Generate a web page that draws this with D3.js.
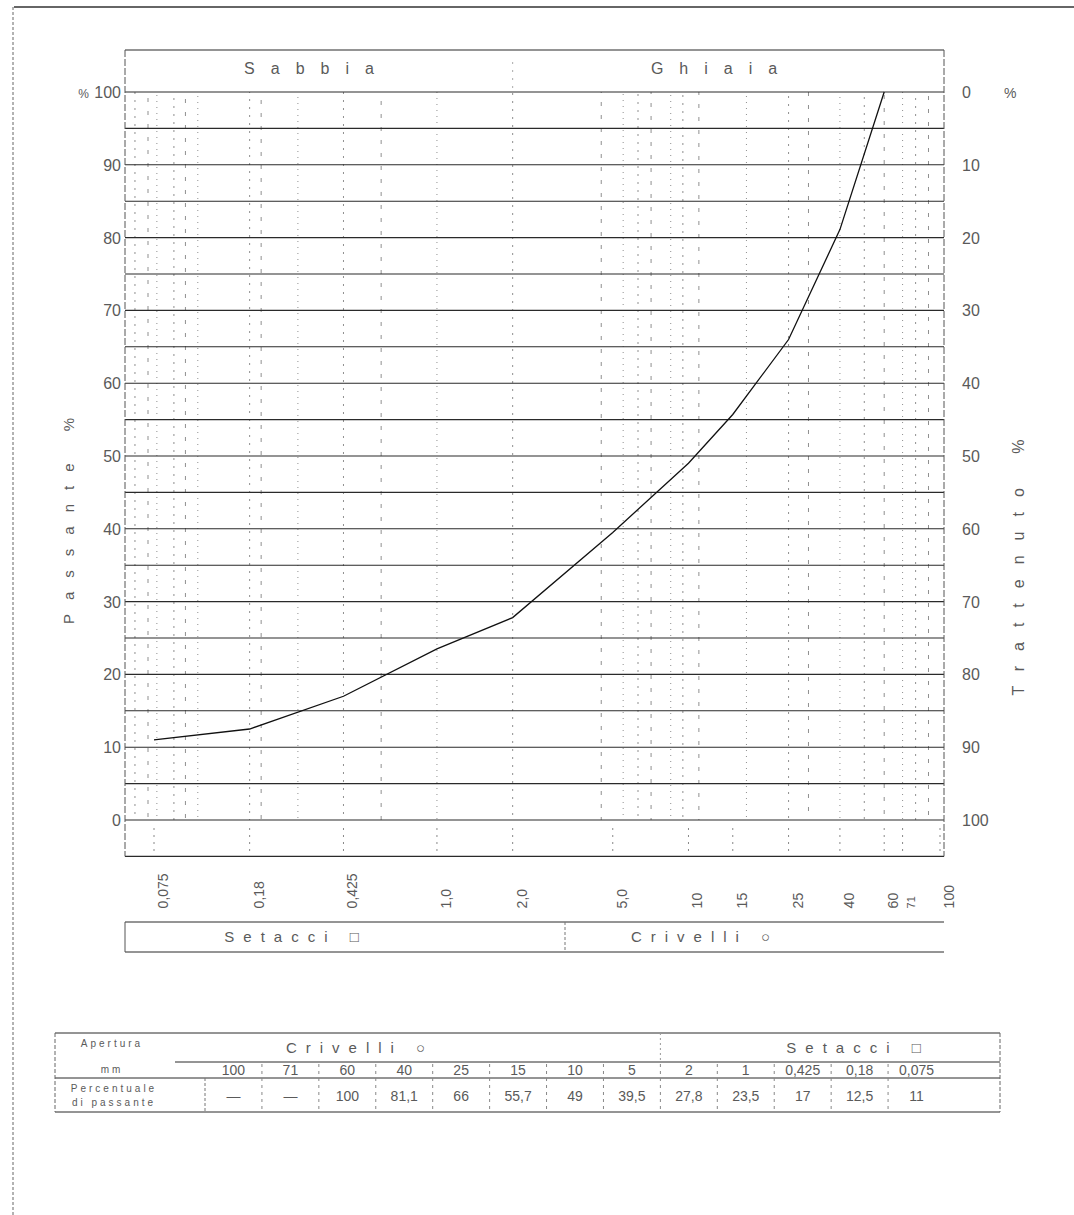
<!DOCTYPE html>
<html><head><meta charset="utf-8">
<script src="https://cdn.jsdelivr.net/npm/d3@7"></script>
<style>
body{margin:0;background:#fff}
svg{display:block}
text{font-family:"Liberation Sans",Arial,sans-serif;fill:#5a5a5a}
</style>
</head><body>
<svg id="c" width="1074" height="1215"></svg>
<script>
// ---- data ----
const sieveSizes  = [0.075, 0.18, 0.425, 1, 2, 5, 10, 15, 25, 40, 60, 71, 100];
const sieveLabels = ["0,075","0,18","0,425","1,0","2,0","5,0","10","15","25","40","60","71","100"];
const curveSizes  = [0.075, 0.18, 0.425, 1, 2, 5, 10, 15, 25, 40, 60];
const passing     = [11, 12.5, 17, 23.5, 27.8, 39.5, 49, 55.7, 66, 81.1, 100];
const gridSizes   = [0.063,0.071,0.077,0.09,0.1,0.112,0.18,0.2,0.28,0.425,0.6,1,2,4.5,5.5,6.3,7.1,8.5,9.5,11,17,25,30,40,50,60,71,80,90];
const passTicks   = [0,10,20,30,40,50,60,70,80,90,100];
const retainTicks = [100,90,80,70,60,50,40,30,20,10,0];
const hLineValues = [0,5,10,15,20,25,30,35,40,45,50,55,60,65,70,75,80,85,90,95,100];
const tableSizes   = ["100","71","60","40","25","15","10","5","2","1","0,425","0,18","0,075"];
const tablePassing = ["—","—","100","81,1","66","55,7","49","39,5","27,8","23,5","17","12,5","11"];
const crivelliCols = ["100","71","60","40","25","15","10","5"];
const setacciCols  = ["2","1","0,425","0,18","0,075"];

// ---- layout ----
const svg = d3.select("#c");
const L = 125, R = 944, headTop = 50;
const x = d3.scaleLog().domain([0.075, 100]).range([154, 940]);
const y = d3.scaleLinear().domain([0, 100]).range([820, 92]);
const yBottom = y(-5);
const ink = "#2a2a2a";

// page frame
svg.append("line").attr("x1",14).attr("x2",1074).attr("y1",7).attr("y2",7)
  .attr("stroke","#333").attr("stroke-width",1.6);
svg.append("line").attr("x1",13).attr("x2",13).attr("y1",7).attr("y2",1215)
  .attr("stroke","#666").attr("stroke-width",1).attr("stroke-dasharray","3,2");

// vertical dotted grid
svg.append("g").selectAll("line").data(gridSizes).join("line")
  .attr("x1",d=>x(d)).attr("x2",d=>x(d))
  .attr("y1",y(100)).attr("y2",y(0))
  .attr("stroke","#8f8f8f").attr("stroke-width",1)
  .attr("stroke-dasharray",(d,i)=> i%3===0 ? "2,6" : (i%3===1 ? "4,9" : "1,5"))
  .attr("stroke-dashoffset",(d,i)=> (i*7)%11);

// ticks in band below 0
svg.append("g").selectAll("line").data(sieveSizes).join("line")
  .attr("x1",d=>x(d)).attr("x2",d=>x(d))
  .attr("y1",y(0)+8).attr("y2",yBottom)
  .attr("stroke","#888").attr("stroke-dasharray","2,5");

// horizontal lines
svg.append("g").selectAll("line").data(hLineValues).join("line")
  .attr("x1",L).attr("x2",R).attr("y1",d=>y(d)).attr("y2",d=>y(d))
  .attr("stroke",ink).attr("stroke-width",1.1);
svg.append("line").attr("x1",L).attr("x2",R).attr("y1",yBottom).attr("y2",yBottom)
  .attr("stroke",ink).attr("stroke-width",1.1);
svg.append("line").attr("x1",L).attr("x2",R).attr("y1",headTop).attr("y2",headTop)
  .attr("stroke",ink).attr("stroke-width",1.1);
// side borders
[L,R].forEach(v=>svg.append("line").attr("x1",v).attr("x2",v).attr("y1",headTop).attr("y2",yBottom)
  .attr("stroke","#555").attr("stroke-width",1).attr("stroke-dasharray","7,2"));
// sand/gravel boundary mark in header
svg.append("line").attr("x1",x(2)).attr("x2",x(2)).attr("y1",headTop+12).attr("y2",y(100))
  .attr("stroke","#aaa").attr("stroke-dasharray","2,6");

// header texts
svg.append("text").attr("x",317).attr("y",74).attr("text-anchor","middle")
  .attr("font-size",16).attr("letter-spacing",16).text("Sabbia");
svg.append("text").attr("x",722).attr("y",74).attr("text-anchor","middle")
  .attr("font-size",16).attr("letter-spacing",16).text("Ghiaia");

// left axis labels
svg.append("g").selectAll("text").data(passTicks).join("text")
  .attr("x",121).attr("y",d=>y(d)+6).attr("text-anchor","end")
  .attr("font-size",16).text(d=>d);
svg.append("text").attr("x",89).attr("y",y(100)+6).attr("text-anchor","end")
  .attr("font-size",12).text("%");

// right axis labels
svg.append("g").selectAll("text").data(retainTicks).join("text")
  .attr("x",962).attr("y",d=>y(100-d)+6).attr("text-anchor","start")
  .attr("font-size",16).text(d=>d);
svg.append("text").attr("x",1004).attr("y",y(100)+6).attr("font-size",14).text("%");

// axis titles
svg.append("text").attr("transform","translate(74,514) rotate(-90)")
  .attr("text-anchor","middle").attr("font-size",15).attr("letter-spacing",14).text("Passante %");
svg.append("text").attr("transform","translate(1024,560) rotate(-90)")
  .attr("text-anchor","middle").attr("font-size",16).attr("letter-spacing",15).text("Trattenuto %");

// x labels (rotated)
svg.append("g").selectAll("text").data(sieveSizes).join("text")
  .attr("transform",(d,i)=>`translate(${x(d)+ (i===11?12:14)},${yBottom+52}) rotate(-90)`)
  .attr("text-anchor","start")
  .attr("font-size",(d,i)=> i===11 ? 11 : 14)
  .text((d,i)=>sieveLabels[i]);

// curve
svg.append("path")
  .datum(curveSizes.map((d,i)=>[d,passing[i]]))
  .attr("fill","none").attr("stroke","#111").attr("stroke-width",1.3)
  .attr("d", d3.line().x(d=>x(d[0])).y(d=>y(d[1])));

// Setacci / Crivelli band
const bTop = 922, bBot = 952, bDiv = 565;
svg.append("line").attr("x1",L).attr("x2",R).attr("y1",bTop).attr("y2",bTop).attr("stroke",ink);
svg.append("line").attr("x1",L).attr("x2",R).attr("y1",bBot).attr("y2",bBot).attr("stroke",ink);
svg.append("line").attr("x1",L).attr("x2",L).attr("y1",bTop).attr("y2",bBot).attr("stroke","#555");
svg.append("line").attr("x1",bDiv).attr("x2",bDiv).attr("y1",bTop).attr("y2",bBot).attr("stroke","#777").attr("stroke-dasharray","3,2");
svg.append("text").attr("x",296).attr("y",942).attr("text-anchor","middle")
  .attr("font-size",15).attr("letter-spacing",9).text("Setacci □");
svg.append("text").attr("x",705).attr("y",942).attr("text-anchor","middle")
  .attr("font-size",15).attr("letter-spacing",9).text("Crivelli ○");

// ---- table ----
const tL = 55, tR = 1000, tTop = 1033, r1 = 1062, r2 = 1078, tBot = 1112, labCol = 205;
const col = d3.scaleBand().domain(tableSizes).range([labCol, 945]);
const T = svg.append("g");
T.append("line").attr("x1",tL).attr("x2",tR).attr("y1",tTop).attr("y2",tTop).attr("stroke",ink);
T.append("line").attr("x1",labCol-30).attr("x2",tR).attr("y1",r1).attr("y2",r1).attr("stroke",ink);
T.append("line").attr("x1",tL).attr("x2",tR).attr("y1",r2).attr("y2",r2).attr("stroke",ink);
T.append("line").attr("x1",tL).attr("x2",tR).attr("y1",tBot).attr("y2",tBot).attr("stroke",ink);
T.append("line").attr("x1",tL).attr("x2",tL).attr("y1",tTop).attr("y2",tBot).attr("stroke","#666").attr("stroke-dasharray","4,2");
T.append("line").attr("x1",tR).attr("x2",tR).attr("y1",tTop).attr("y2",tBot).attr("stroke","#666").attr("stroke-dasharray","4,2");
T.append("line").attr("x1",labCol).attr("x2",labCol).attr("y1",r2).attr("y2",tBot).attr("stroke","#777").attr("stroke-dasharray","3,2");
const split = col("2");
T.append("line").attr("x1",split).attr("x2",split).attr("y1",tTop).attr("y2",r1).attr("stroke","#999").attr("stroke-dasharray","2,3");
// column separators (dashed, as in the scan)
T.selectAll("line.sep").data(tableSizes.slice(1)).join("line").attr("class","sep")
  .attr("x1",d=>col(d)).attr("x2",d=>col(d)).attr("y1",r1+2).attr("y2",tBot-2)
  .attr("stroke","#888").attr("stroke-dasharray","3,4");
// group headers
T.append("text").attr("x",360)
  .attr("y",1053).attr("text-anchor","middle").attr("font-size",15).attr("letter-spacing",9).text("Crivelli ○");
T.append("text").attr("x",858)
  .attr("y",1053).attr("text-anchor","middle").attr("font-size",15).attr("letter-spacing",9).text("Setacci □");
// row labels
T.append("text").attr("x",112).attr("y",1047).attr("text-anchor","middle").attr("font-size",10).attr("letter-spacing",3).text("Apertura");
T.append("text").attr("x",112).attr("y",1073).attr("text-anchor","middle").attr("font-size",10).attr("letter-spacing",3).text("mm");
T.append("text").attr("x",114).attr("y",1092).attr("text-anchor","middle").attr("font-size",10).attr("letter-spacing",3).text("Percentuale");
T.append("text").attr("x",114).attr("y",1106).attr("text-anchor","middle").attr("font-size",10).attr("letter-spacing",3).text("di passante");
// values
T.selectAll("text.mm").data(tableSizes).join("text").attr("class","mm")
  .attr("x",d=>col(d)+col.bandwidth()/2).attr("y",1075).attr("text-anchor","middle")
  .attr("font-size",14).text(d=>d);
T.selectAll("text.pp").data(tablePassing).join("text").attr("class","pp")
  .attr("x",(d,i)=>col(tableSizes[i])+col.bandwidth()/2).attr("y",1101).attr("text-anchor","middle")
  .attr("font-size",14).text(d=>d);
</script>
</body></html>
